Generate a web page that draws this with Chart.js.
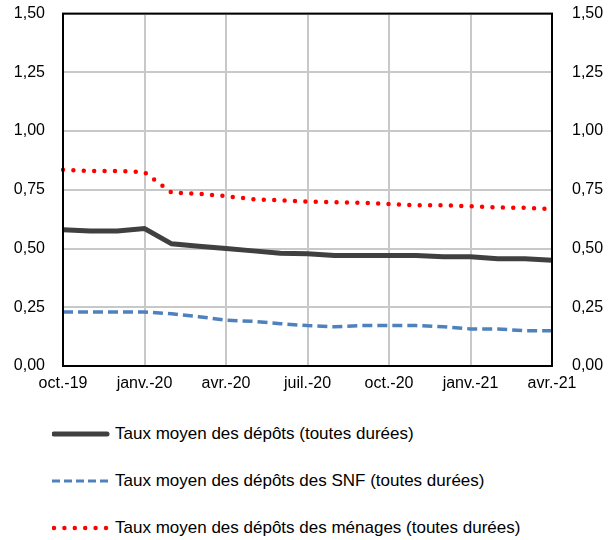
<!DOCTYPE html>
<html>
<head>
<meta charset="utf-8">
<script src="https://cdn.jsdelivr.net/npm/chart.js@4"></script>
<style>
  body { margin: 0; background: #fff; font-family: 'Liberation Sans', Arial, sans-serif; }
  #wrap { width: 609px; height: 400px; position: relative; }
  #legend { position: absolute; left: 0; top: 400px; width: 609px; }
  .item { position: absolute; left: 52px; height: 20px; font-size: 17px; color: #000; white-space: nowrap; }
  .item svg { position: absolute; left: 0; top: 0; }
  .item span { position: absolute; left: 63px; top: 0px; }
</style>
</head>
<body>
<div id="wrap"><canvas id="chart" width="609" height="400"></canvas></div>
<div id="legend"></div>
<script>
// mois d'oct.-19 à avr.-21
const months = ['oct.-19', 'nov.-19', 'déc.-19', 'janv.-20', 'févr.-20', 'mars-20', 'avr.-20',
    'mai-20', 'juin-20', 'juil.-20', 'août-20', 'sept.-20', 'oct.-20', 'nov.-20', 'déc.-20',
    'janv.-21', 'févr.-21', 'mars-21', 'avr.-21'];

const tauxMoyen = [0.58, 0.575, 0.575, 0.585, 0.52, 0.51, 0.50, 0.49, 0.48, 0.478, 0.47,
    0.47, 0.47, 0.47, 0.465, 0.465, 0.457, 0.457, 0.45];
const tauxSNF = [0.23, 0.23, 0.23, 0.23, 0.222, 0.21, 0.195, 0.19, 0.18, 0.172, 0.167,
    0.172, 0.172, 0.172, 0.167, 0.158, 0.158, 0.15, 0.15];
const tauxMenages = [0.835, 0.83, 0.83, 0.825, 0.738, 0.733, 0.723, 0.71, 0.705, 0.70, 0.697,
    0.695, 0.69, 0.684, 0.684, 0.68, 0.675, 0.673, 0.668];

const yTicks = [0, 0.25, 0.5, 0.75, 1, 1.25, 1.5];

const labels = [
    'Taux moyen des dépôts (toutes durées)',
    'Taux moyen des dépôts des SNF (toutes durées)',
    'Taux moyen des dépôts des ménages (toutes durées)'
];

const fmt = v => v.toFixed(2).replace('.', ',');
const font = { family: "'Liberation Sans', Arial, sans-serif", size: 16 };

// cadre noir autour de la zone de tracé
const plotFrame = {
    id: 'plotFrame',
    afterDatasetsDraw(chart) {
        const { ctx, chartArea: a } = chart;
        ctx.save();
        ctx.strokeStyle = '#000';
        ctx.lineWidth = 2;
        ctx.strokeRect(a.left, a.top, a.right - a.left, a.bottom - a.top);
        ctx.restore();
    }
};

new Chart(document.getElementById('chart'), {
    type: 'line',
    data: {
        labels: months,
        datasets: [
            { label: labels[0], data: tauxMoyen, borderColor: '#404040', borderWidth: 5, pointRadius: 0, tension: 0 },
            { label: labels[1], data: tauxSNF, borderColor: '#4f81bd', borderWidth: 3.5, borderDash: [10, 5], pointRadius: 0, tension: 0 },
            { label: labels[2], data: tauxMenages, borderColor: '#ff0000', borderWidth: 4.5, borderDash: [0, 10.4], borderCapStyle: 'round', pointRadius: 0, tension: 0 }
        ]
    },
    options: {
        responsive: false,
        animation: false,
        layout: { padding: { top: 0, bottom: 0, left: 0, right: 0 } },
        plugins: { legend: { display: false }, tooltip: { enabled: false } },
        scales: {
            x: {
                offset: false,
                grid: {
                    color: c => (c.index % 3 === 0 ? '#c8c8c8' : 'transparent'),
                    lineWidth: 2,
                    drawTicks: false
                },
                border: { display: false },
                ticks: {
                    autoSkip: false,
                    maxRotation: 0,
                    color: '#000',
                    font: font,
                    padding: 8,
                    callback: (v, i) => (i % 3 === 0 ? months[i] : '')
                },
                afterFit: s => { s.height = 34; }
            },
            y: {
                position: 'left',
                min: 0, max: 1.5,
                afterBuildTicks: s => { s.ticks = yTicks.map(v => ({ value: v })); },
                grid: { color: '#c8c8c8', lineWidth: 2, drawTicks: true, tickLength: 14, tickColor: 'transparent' },
                border: { display: false },
                ticks: { color: '#000', font: font, padding: 4, callback: v => fmt(v) },
                afterFit: s => { s.width = 63; }
            },
            y2: {
                position: 'right',
                min: 0, max: 1.5,
                afterBuildTicks: s => { s.ticks = yTicks.map(v => ({ value: v })); },
                grid: { display: true, drawOnChartArea: false, drawTicks: true, tickLength: 16, tickColor: 'transparent' },
                border: { display: false },
                ticks: { color: '#000', font: font, padding: 4, callback: v => fmt(v) },
                afterFit: s => { s.width = 57; }
            }
        }
    },
    plugins: [plotFrame]
});

// légende
const legend = document.getElementById('legend');
const samples = [
    '<line x1="2" y1="10" x2="55" y2="10" stroke="#404040" stroke-width="5" stroke-linecap="round"/>',
    '<line x1="0" y1="10" x2="56" y2="10" stroke="#4f81bd" stroke-width="3" stroke-dasharray="8,4"/>',
    '<line x1="2" y1="10" x2="56" y2="10" stroke="#ff0000" stroke-width="4.5" stroke-dasharray="0,10.4" stroke-linecap="round"/>'
];
const tops = [24, 71, 118];
labels.forEach((t, i) => {
    const d = document.createElement('div');
    d.className = 'item';
    d.style.top = tops[i] + 'px';
    d.innerHTML = '<svg width="60" height="20">' + samples[i] + '</svg><span>' + t + '</span>';
    legend.appendChild(d);
});
</script>
</body>
</html>
